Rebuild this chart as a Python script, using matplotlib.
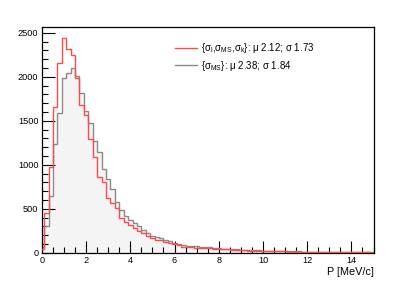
import matplotlib
matplotlib.use("Agg")
import matplotlib.pyplot as plt
import numpy as np
from matplotlib.ticker import MultipleLocator
from matplotlib.lines import Line2D

plt.rcParams['font.family'] = ['Liberation Sans', 'DejaVu Sans']
plt.rcParams['mathtext.fontset'] = 'custom'
plt.rcParams['mathtext.rm'] = 'Liberation Sans'
plt.rcParams['mathtext.it'] = 'Liberation Sans'

# bin centres 0.0 .. 15.0 step 0.2 (bin width 0.2)
bin_width = 0.2
red_counts = [40, 450, 975, 1660, 2160, 2440, 2320, 2245, 1990, 1675,
              1565, 1295, 1090, 865, 805, 620, 570, 510, 400, 350,
              320, 280, 250, 220, 190, 163, 144, 144, 125, 114,
              95, 87, 68, 68, 65, 57, 57, 55, 50, 42,
              42, 40, 38, 35, 35, 30, 28, 25, 22, 20,
              18, 20, 16, 15, 14, 14, 12, 12, 10, 10,
              9, 8, 8, 7, 7, 6, 6, 5, 5, 5,
              4, 4, 3, 3, 3, 3]
gray_counts = [60, 300, 650, 1240, 1590, 1990, 2045, 2095, 2005, 1820,
               1610, 1470, 1270, 1150, 950, 835, 720, 580, 485, 417,
               371, 340, 300, 260, 220, 190, 180, 165, 150, 128,
               107, 95, 90, 80, 76, 72, 68, 65, 60, 50,
               50, 46, 45, 40, 38, 36, 34, 30, 28, 26,
               24, 25, 22, 20, 18, 22, 16, 15, 14, 13,
               12, 10, 9, 9, 8, 7, 7, 6, 6, 5,
               5, 4, 4, 4, 3, 3]
red_label = r"{$\sigma_{l}$,$\sigma_{MS}$,$\sigma_{k}$}: μ 2.12; σ 1.73"
gray_label = r"{$\sigma_{MS}$}: μ 2.38; σ 1.84"
x_label = "P [MeV/c]"

edges_red = -bin_width / 2 + bin_width * np.arange(len(red_counts) + 1)
edges_gray = -bin_width / 2 + bin_width * np.arange(len(gray_counts) + 1)

fig = plt.figure(figsize=(4.15, 2.81), dpi=100)
ax = fig.add_axes([0.101, 0.1007, 0.799, 0.802])

ax.stairs(gray_counts, edges_gray, fill=True, color='#f4f4f4', baseline=0, zorder=1)
ax.stairs(gray_counts, edges_gray, color='#8a8a8a', linewidth=1.0, baseline=None, zorder=2)
ax.stairs(red_counts, edges_red, color='#ff4a4a', linewidth=1.0, baseline=None, zorder=3)

ax.set_xlim(0, 15)
ax.set_ylim(0, 2562)

ax.xaxis.set_major_locator(MultipleLocator(2))
ax.xaxis.set_minor_locator(MultipleLocator(0.5))
ax.yaxis.set_major_locator(MultipleLocator(500))
ax.yaxis.set_minor_locator(MultipleLocator(100))
ax.tick_params(which='both', direction='in', top=False, right=False, labelsize=6.6, pad=2.5, width=0.8)
ax.tick_params(which='major', length=9)
ax.tick_params(which='minor', length=4.5)
for s in ax.spines.values():
    s.set_linewidth(0.9)

ax.set_xlabel(x_label, fontsize=7.8, loc='right', labelpad=1)

handles = [Line2D([], [], color='#ff4a4a', lw=1.0), Line2D([], [], color='#8a8a8a', lw=1.0)]
ax.legend(handles, [red_label, gray_label], loc='upper left', bbox_to_anchor=(0.39, 0.955),
          frameon=False, fontsize=7.0, handlelength=2.3, handletextpad=0.4, labelspacing=0.35,
          borderaxespad=0)

fig.savefig("out.png", dpi=100)
